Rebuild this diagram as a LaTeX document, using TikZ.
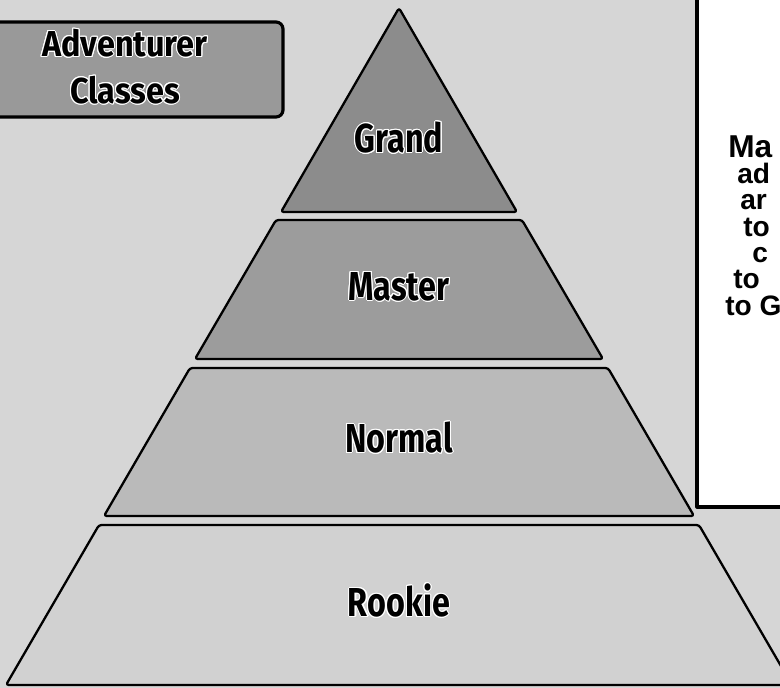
\documentclass[tikz,border=0pt]{standalone}
\usepackage{fontspec}
\usepackage{contour}
\newfontfamily\classfont[FakeStretch=0.8]{Fira Sans}
\newfontfamily\titlefont[FakeStretch=0.9]{Fira Sans}
\newfontfamily\notefont{Liberation Sans}
\contourlength{0.6pt}
\definecolor{bgbgbg}{rgb}{0.84,0.84,0.84}
\definecolor{grgrgr}{rgb}{0.55,0.55,0.55}
\definecolor{msmsms}{rgb}{0.61,0.61,0.61}
\definecolor{nonono}{rgb}{0.73,0.73,0.73}
\definecolor{rkrkrk}{rgb}{0.82,0.82,0.82}
\definecolor{bxbxbx}{rgb}{0.6,0.6,0.6}
\tikzset{
  layer/.style={draw=black,line width=1.3pt,rounded corners=1.5pt},
  classlabel/.style={font=\classfont\bfseries\fontsize{23}{25}\selectfont,inner sep=0pt},
  titlelabel/.style={font=\titlefont\bfseries\fontsize{20.5}{26.5}\selectfont,align=center,inner sep=0pt},
  notetext/.style={font=\notefont\bfseries\fontsize{16}{15}\selectfont,align=left,anchor=north west,inner sep=0pt}
}
\begin{document}
\begin{tikzpicture}[line cap=round,line join=round,x=0.02cm,y=-0.02cm]
\useasboundingbox (0,0) rectangle (780,688);
\clip (0,0) rectangle (780,688);
\fill [bgbgbg] (0,0) rectangle (780,688);
% title box
\draw [fill=bxbxbx,line width=1.8pt,rounded corners=4pt] (-10,22) rectangle (283,117);
\node [titlelabel] (title) at (125,67) {\contour{white}{Adventurer}\\\contour{white}{Classes}};
% note box
\draw [fill=white,line width=1.8pt] (697,-10) rectangle (800,507);
\node [notetext] (note) at (725,135) {\hspace{0.06cm}{\fontsize{18}{15}\selectfont Ma}\\
  \hspace{0.24cm}ad\\ \hspace{0.3cm}ar\\ \hspace{0.36cm}to\\ \hspace{0.54cm}c\\
  \hspace{0.16cm}to\\ to G};
% pyramid
\draw [layer,fill=grgrgr] (399,8) -- (517,212) -- (281,212) -- cycle;
\draw [layer,fill=msmsms] (276,220) -- (522,220) -- (603,359) -- (195,359) -- cycle;
\draw [layer,fill=nonono] (190,368) -- (608,368) -- (694,516) -- (104,516) -- cycle;
\draw [layer,fill=rkrkrk] (99,525) -- (699,525) -- (792,685) -- (6,685) -- cycle;
\node [classlabel] (grand) at (399,138) {\contour{white}{Grand}};
\node [classlabel] (master) at (399,287) {\contour{white}{Master}};
\node [classlabel] (normal) at (399,438) {\contour{white}{Normal}};
\node [classlabel] (rookie) at (399,601) {\contour{white}{Rookie}};
\end{tikzpicture}
\end{document}
